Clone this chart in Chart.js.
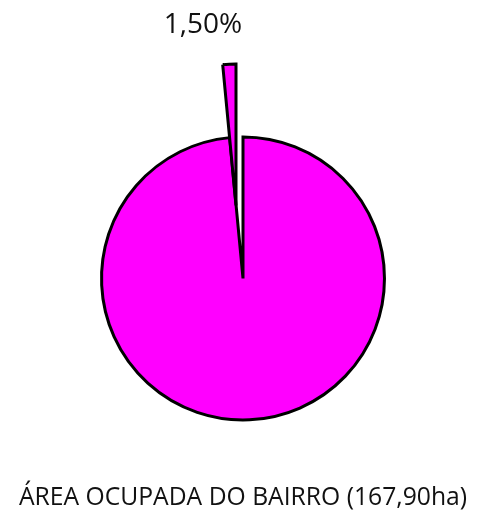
<!DOCTYPE html>
<html>
<head>
<meta charset="utf-8">
<script src="https://cdn.jsdelivr.net/npm/chart.js@4"></script>
<style>
  html, body { margin: 0; padding: 0; background: #ffffff; }
  #wrap { width: 483px; height: 515px; position: relative; }
</style>
</head>
<body>
<div id="wrap"><canvas id="c"></canvas></div>
<script>
// ---- data ----
const categories = ['Demais áreas', 'Área ocupada'];
const values = [98.5, 1.5];
const labelledIndex = 1;
const chartTitle = 'ÁREA OCUPADA DO BAIRRO (167,90ha)';

// ---- style ----
const sliceColor = '#FF00FF';
const edgeColor = '#000000';
const textColor = '#111111';
const explodeShift = { dx: -7, dy: -73 };
const labelOffset = { dx: -33, dy: -39 };

function formatPct(v) {
  return v.toFixed(2).replace('.', ',') + '%';
}

const explodePlugin = {
  id: 'explode',
  beforeDatasetsDraw(chart) {
    const arc = chart.getDatasetMeta(0).data[labelledIndex];
    if (arc) { arc.x += explodeShift.dx; arc.y += explodeShift.dy; }
  },
  afterDatasetsDraw(chart) {
    const arc = chart.getDatasetMeta(0).data[labelledIndex];
    if (!arc) return;
    arc.x -= explodeShift.dx; arc.y -= explodeShift.dy;
    const ctx = chart.ctx;
    const x = arc.x + explodeShift.dx + labelOffset.dx;
    const y = arc.y + explodeShift.dy - arc.outerRadius + labelOffset.dy;
    ctx.save();
    ctx.font = '28px "Open Sans"';
    ctx.fillStyle = textColor;
    ctx.textAlign = 'center';
    ctx.textBaseline = 'middle';
    ctx.fillText(formatPct(values[labelledIndex]), x, y);
    ctx.restore();
  }
};

new Chart(document.getElementById('c'), {
  type: 'pie',
  data: {
    labels: categories,
    datasets: [{
      data: values,
      backgroundColor: sliceColor,
      borderColor: edgeColor,
      borderWidth: 3,
      borderJoinStyle: 'miter'
    }]
  },
  options: {
    responsive: true,
    maintainAspectRatio: false,
    animation: false,
    events: [],
    layout: { padding: { left: 3, right: 0, top: 135.5, bottom: 2 } },
    plugins: {
      legend: { display: false },
      tooltip: { enabled: false },
      title: {
        display: true,
        position: 'bottom',
        text: chartTitle,
        color: textColor,
        font: { family: '"Open Sans"', size: 24.7, weight: 'normal' },
        padding: { top: 61.9, bottom: 0 }
      }
    }
  },
  plugins: [explodePlugin]
});
</script>
</body>
</html>
